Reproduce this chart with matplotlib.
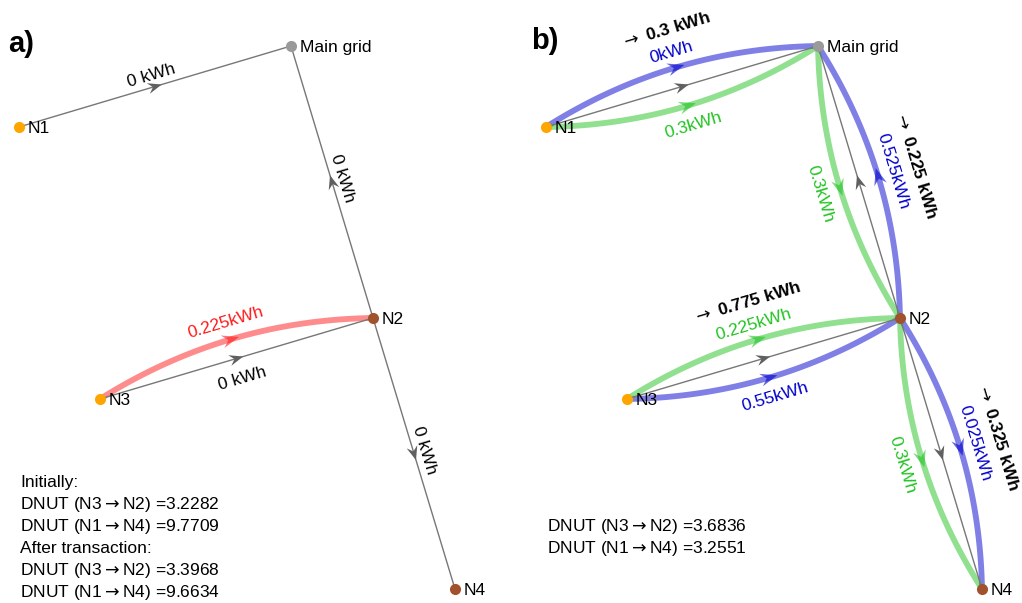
import numpy as np
import matplotlib.pyplot as plt
from matplotlib.patches import Polygon

plt.rcParams['font.family'] = ['Liberation Sans', 'DejaVu Sans']

# node positions (pixel-like layout units) for panel a; panel b is shifted right
node_names = ['Main grid', 'N1', 'N2', 'N3', 'N4']
node_x = [291, 19, 373, 100, 455]
node_y = [46, 127, 318, 399, 589]
node_colors = ['#9a9a9a', '#ffa500', '#a0522d', '#ffa500', '#a0522d']
panel_shift = 527

# links (a, b), gray edge direction (1: a->b, -1: b->a)
links = [('N1', 'Main grid'), ('Main grid', 'N2'), ('N3', 'N2'), ('N2', 'N4')]
gray_dir = [1, -1, 1, 1]
gray_side = [1, 1, -1, 1]
gray_kwh = [0, 0, 0, 0]

# panel a: a single proposed transaction
red_link = 2
red_kwh = 0.225

# panel b: two flows per link, and the resulting net value
blue_kwh = [0, 0.525, 0.55, 0.025]
blue_dir = [1, -1, 1, 1]
blue_side = [1, 1, -1, 1]
green_kwh = [0.3, 0.3, 0.225, 0.3]
green_dir = [1, 1, 1, 1]
green_side = [-1, -1, 1, -1]
net_kwh = [0.3, 0.225, 0.775, 0.325]

ARR = '$\\rightarrow$'
text_a = ['Initially:', f'DNUT (N3{ARR}N2) =3.2282', f'DNUT (N1{ARR}N4) =9.7709',
          'After transaction:', f'DNUT (N3{ARR}N2) =3.3968', f'DNUT (N1{ARR}N4) =9.6634']
text_b = [f'DNUT (N3{ARR}N2) =3.6836', f'DNUT (N1{ARR}N4) =3.2551']

FS = 12.5
GRAY = '#777777'
BLUE = '#0000cc'
GREEN = '#22c322'
RED = '#ff1a1a'


def pos(name, shift):
    i = node_names.index(name)
    return np.array([node_x[i] + shift, node_y[i]], float)


def geom(link, shift):
    a, b = pos(link[0], shift), pos(link[1], shift)
    d = (b - a) / np.linalg.norm(b - a)
    n = np.array([d[1], -d[0]])
    ang = np.degrees(np.arctan2(-d[1], d[0]))
    return a, b, d, n, ang


def arrowhead(ax, p, u, color, length, width, alpha=1.0):
    w = np.array([u[1], -u[0]])
    pts = [p + u * length * 0.5,
           p - u * length * 0.5 + w * width * 0.5,
           p - u * length * 0.15,
           p - u * length * 0.5 - w * width * 0.5]
    ax.add_patch(Polygon(pts, closed=True, color=color, alpha=alpha, lw=0, zorder=4))


def curve(ax, link, shift, side, direction, color, h=20):
    a, b, d, n, ang = geom(link, shift)
    mid = (a + b) / 2
    c = mid + side * n * 2 * h
    t = np.linspace(0, 1, 80)[:, None]
    pts = (1 - t) ** 2 * a + 2 * (1 - t) * t * c + t ** 2 * b
    ax.plot(pts[:, 0], pts[:, 1], color=color, lw=4.2, alpha=0.5,
            solid_capstyle='butt', zorder=2)
    arrowhead(ax, mid + side * n * h, d * direction, color, 17, 13, alpha=0.6)


def gray_edge(ax, k, shift):
    a, b, d, n, ang = geom(links[k], shift)
    ax.plot([a[0], b[0]], [a[1], b[1]], color=GRAY, lw=1.0, zorder=3)
    arrowhead(ax, (a + b) / 2, d * gray_dir[k], '#606060', 14, 11)


def edge_label(ax, k, shift, offset, text, color, **kw):
    a, b, d, n, ang = geom(links[k], shift)
    p = (a + b) / 2 + n * offset
    ax.text(p[0], p[1], text, color=color, fontsize=FS, rotation=ang,
            rotation_mode='anchor', ha='center', va='center', **kw)


def draw_nodes(ax, shift):
    for name, x, y, c in zip(node_names, node_x, node_y, node_colors):
        ax.plot(x + shift, y, 'o', ms=8, color=c, mec='none', zorder=5)
        ax.text(x + shift + 9, y + 1.5, name, fontsize=FS, va='center', ha='left', zorder=6)


fig = plt.figure(figsize=(10.22, 6.03), dpi=100)
ax = fig.add_axes([0, 0, 1, 1])
ax.set_xlim(0, 1022)
ax.set_ylim(603, 0)
ax.axis('off')

# ---- panel a
for k in range(len(links)):
    gray_edge(ax, k, 0)
    off = 11 if gray_side[k] > 0 else -21
    edge_label(ax, k, 0, off, f'{gray_kwh[k]:g} kWh', 'black')
curve(ax, links[red_link], 0, 1, 1, RED)
edge_label(ax, red_link, 0, 37, f'{red_kwh:g}kWh', RED)
draw_nodes(ax, 0)
for i, s in enumerate(text_a):
    ax.text(20, 482 + i * 22.2, s, fontsize=FS, va='center', ha='left')
ax.text(8, 44, 'a)', fontsize=21, fontweight='bold', va='center', ha='left')

# ---- panel b
sb = panel_shift
for k in range(len(links)):
    gray_edge(ax, k, sb)
    curve(ax, links[k], sb, blue_side[k], blue_dir[k], BLUE)
    curve(ax, links[k], sb, green_side[k], green_dir[k], GREEN)
    edge_label(ax, k, sb, 35.5 if blue_side[k] > 0 else -40.5,
               f'{blue_kwh[k]:g}kWh', BLUE)
    edge_label(ax, k, sb, 35.5 if green_side[k] > 0 else -40.5,
               f'{green_kwh[k]:g}kWh', GREEN)
    edge_label(ax, k, sb, 59, ARR + f' {net_kwh[k]:g} kWh', 'black',
               fontweight='bold')
draw_nodes(ax, sb)
for i, s in enumerate(text_b):
    ax.text(547, 526 + i * 22.2, s, fontsize=FS, va='center', ha='left')
ax.text(531, 41, 'b)', fontsize=21, fontweight='bold', va='center', ha='left')

fig.savefig('out.png', dpi=100)
